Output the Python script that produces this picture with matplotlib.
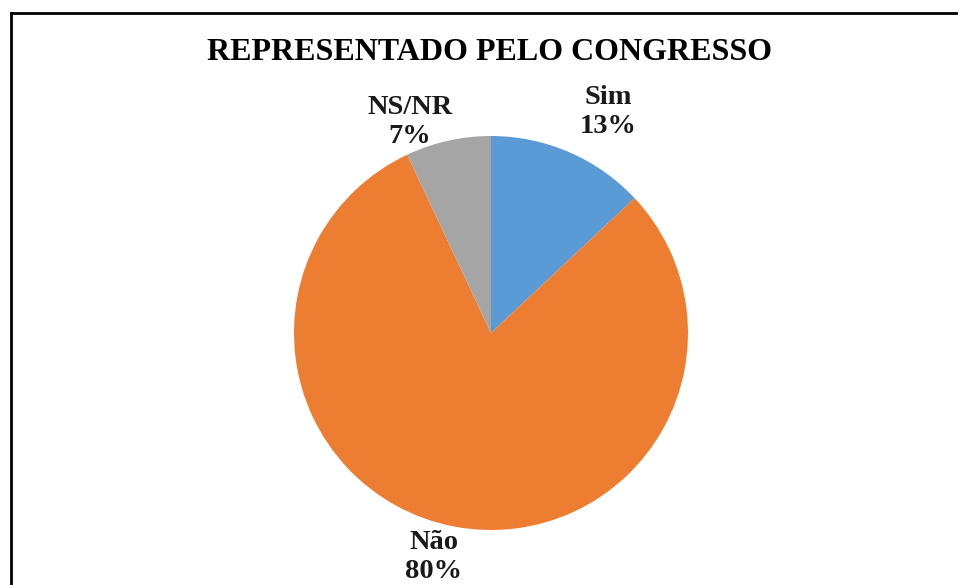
import matplotlib
matplotlib.use("Agg")
import matplotlib.pyplot as plt
from matplotlib.lines import Line2D

title = "REPRESENTADO PELO CONGRESSO"
categories = ["Sim", "Não", "NS/NR"]
values = [13, 80, 7]
colors = ["#5B9BD5", "#ED7D31", "#A5A5A5"]

W, H = 958, 585
fig = plt.figure(figsize=(W / 100, H / 100), dpi=100)
fig.patch.set_facecolor("white")

cx, cy, r = 491, 333, 197
ax = fig.add_axes([(cx - r) / W, (H - cy - r) / H, 2 * r / W, 2 * r / H])
ax.pie(values, colors=colors, startangle=90, counterclock=False, radius=1,
       wedgeprops=dict(linewidth=0))
ax.set_xlim(-1, 1)
ax.set_ylim(-1, 1)
ax.set_aspect("equal")
ax.axis("off")

# label positions (pixels in figure) for each category
label_pos = [(608, 112), (434, 557), (410, 122)]
font = dict(family="Liberation Serif", weight="bold", size=20.5)
for cat, val, (px, py) in zip(categories, values, label_pos):
    fig.text(px / W, 1 - py / H, f"{cat}\n{val}%", ha="center", va="center",
             linespacing=1.2, color="#1a1a1a", **font)

fig.text(490 / W, 1 - 53 / H, title, ha="center", va="center",
         family="Liberation Serif", weight="bold", size=23, color="black")

# frame (left and top edges visible)
fig.add_artist(Line2D([11 / W, 11 / W], [0, 1 - 13 / H], transform=fig.transFigure,
                      color="black", linewidth=2))
fig.add_artist(Line2D([11 / W, 1], [1 - 13 / H, 1 - 13 / H], transform=fig.transFigure,
                      color="black", linewidth=2))

fig.savefig("out.png", dpi=100, facecolor="white")
